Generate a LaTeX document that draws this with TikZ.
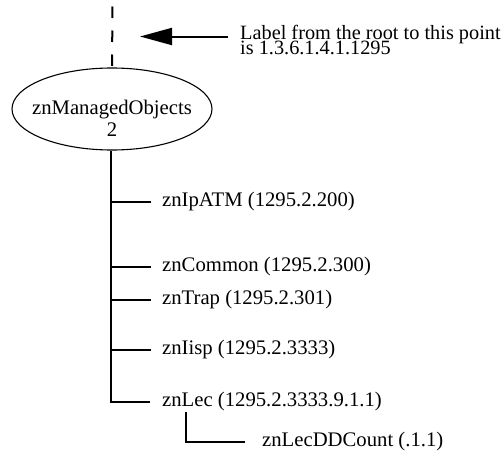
\documentclass[tikz,border=0pt]{standalone}
\usepackage{fontspec}
\setmainfont{Liberation Serif}
\usetikzlibrary{arrows.meta,shapes.geometric}
\begin{document}
\begin{tikzpicture}[x=1pt,y=-1pt,
  txt/.style={font=\fontsize{20.7}{22}\selectfont, inner sep=0pt},
  note/.style={font={\fontsize{20.3}{15}\selectfont\lineskiplimit=-30pt\relax}, inner sep=0pt, align=left},
  tree/.style={line width=2pt},
  oval/.style={ellipse, draw, line width=1.1pt, minimum width=200pt, minimum height=82pt, inner sep=0pt},
  pointer/.style={line width=2pt, -{Triangle[length=32pt,width=17pt]}},
  rootline/.style={line width=2pt, dash pattern=on 11.5pt off 12.5pt}
]
\useasboundingbox (0,0) rectangle (504,455);
% root ellipse
\node[oval] (mo) at (112,109) {};
\node[txt, anchor=base] (mo1) at (112,114) {znManagedObjects};
\node[txt, anchor=base] (mo2) at (112,136) {2};
\coordinate (top) at (112.5,6.5);
\draw[rootline] (top) -- (mo.north);
% label and arrow
\node[note, anchor=north west] (lbl) at (240,25.2) {Label from the root to this point\\is 1.3.6.1.4.1.1295};
\coordinate (arrS) at (228,36.5);
\coordinate (arrE) at (140,36.5);
\draw[pointer] (arrS) -- (arrE);
% children
\coordinate (trunk) at (111,150);
\node[txt, anchor=west] (n1) at (162,202) {znIpATM (1295.2.200)};
\node[txt, anchor=west] (n2) at (162,267) {znCommon (1295.2.300)};
\node[txt, anchor=west] (n3) at (162,300) {znTrap (1295.2.301)};
\node[txt, anchor=west] (n4) at (162,350) {znIisp (1295.2.3333)};
\node[txt, anchor=west] (n5) at (162,402) {znLec (1295.2.3333.9.1.1)};
\node[txt, anchor=west] (n6) at (262,442) {znLecDDCount (.1.1)};
\draw[tree] (mo.south -| trunk) |- ([xshift=-12pt]n5.west);
\foreach \n in {n1,n2,n3,n4} \draw[tree] (\n.west -| trunk) -- ([xshift=-11pt]\n.west);
\draw[tree] ([xshift=24pt]n5.south west) |- ([xshift=-17pt]n6.west);
\end{tikzpicture}
\end{document}
